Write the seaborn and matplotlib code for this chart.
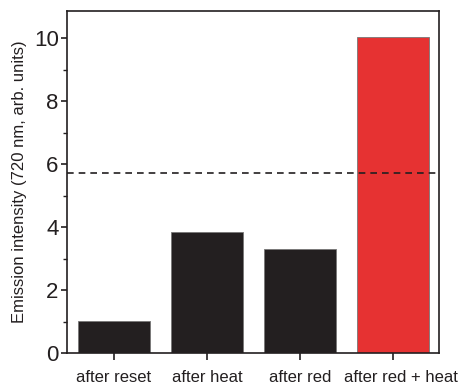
import matplotlib
matplotlib.use("Agg")
import matplotlib.pyplot as plt
import matplotlib.transforms as mtransforms
import seaborn as sns
import pandas as pd
from matplotlib.ticker import MultipleLocator

categories = ["after reset", "after heat", "after red", "after red + heat"]
values = [1.03, 3.83, 3.29, 10.03]
bar_colors = ["#231f20", "#231f20", "#231f20", "#e63232"]
threshold = 5.7

sns.set_theme(style="ticks")
plt.rcParams["font.family"] = ["Liberation Sans", "DejaVu Sans"]

df = pd.DataFrame({"cat": categories, "val": values})

fig = plt.figure(figsize=(4.65, 3.88), dpi=100)
ax = fig.add_axes([67/465, 1 - 353/388, (439-67)/465, (353-11)/388])

sns.barplot(data=df, x="cat", y="val", hue="cat", palette=bar_colors, saturation=1,
            width=0.78, edgecolor="#777777", linewidth=0.6, legend=False, ax=ax)
ax.axhline(threshold, color="#231f20", linestyle=(0, (4, 3)), linewidth=1.2)

ax.set_xlim(-0.505, 3.495)
ax.set_ylim(0, 10.86)
ax.yaxis.set_major_locator(MultipleLocator(2))
ax.yaxis.set_minor_locator(MultipleLocator(1))
for s in ax.spines.values():
    s.set_visible(True)
    s.set_color("#231f20")
    s.set_linewidth(1.2)
ax.tick_params(axis="y", which="major", direction="out", length=4, width=1.2,
               labelsize=16, colors="#231f20", pad=2)
ax.tick_params(axis="y", which="minor", direction="out", length=3, width=1.0, colors="#231f20")
ax.tick_params(axis="x", direction="out", length=5, width=1.2, labelsize=12,
               colors="#231f20", pad=7)
ax.set_xlabel("")
ax.set_ylabel("Emission intensity (720 nm, arb. units)", fontsize=12, color="#231f20", labelpad=5)

fig.canvas.draw()
last = ax.get_xticklabels()[-1]
last.set_transform(last.get_transform() + mtransforms.ScaledTranslation(8/100, 0, fig.dpi_scale_trans))

fig.savefig("out.png", dpi=100)
